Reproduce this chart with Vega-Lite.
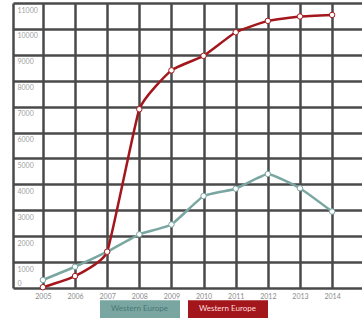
{
  "$schema": "https://vega.github.io/schema/vega-lite/v6.json",
  "width": 349,
  "height": 285,
  "padding": {"left": 13, "top": 3, "right": 0, "bottom": 0},
  "autosize": {"type": "pad"},
  "background": "white",
  "config": {
    "view": {"stroke": null},
    "axis": {"gridColor": "#4a4a4a", "gridWidth": 2.5, "gridOpacity": 1, "domainColor": "#4a4a4a", "domainWidth": 2.5, "labelFont": "Lato", "labelColor": "#8a8a8a", "labelFontSize": 7, "ticks": false}
  },
  "data": {"values": [
    {"year": 2005, "s": "A", "v": 310}, {"year": 2006, "s": "A", "v": 820}, {"year": 2007, "s": "A", "v": 1400},
    {"year": 2008, "s": "A", "v": 2070}, {"year": 2009, "s": "A", "v": 2450}, {"year": 2010, "s": "A", "v": 3550},
    {"year": 2011, "s": "A", "v": 3830}, {"year": 2012, "s": "A", "v": 4400}, {"year": 2013, "s": "A", "v": 3850},
    {"year": 2014, "s": "A", "v": 2950},
    {"year": 2005, "s": "B", "v": 30}, {"year": 2006, "s": "B", "v": 460}, {"year": 2007, "s": "B", "v": 1400},
    {"year": 2008, "s": "B", "v": 6900}, {"year": 2009, "s": "B", "v": 8400}, {"year": 2010, "s": "B", "v": 8960},
    {"year": 2011, "s": "B", "v": 9870}, {"year": 2012, "s": "B", "v": 10310}, {"year": 2013, "s": "B", "v": 10480},
    {"year": 2014, "s": "B", "v": 10540}
  ]},
  "encoding": {
    "x": {"field": "year", "type": "ordinal", "scale": {"type": "point", "padding": 0.93},
      "axis": {"title": null, "labelAngle": 0, "grid": true, "domain": false, "labelPadding": 4}},
    "y": {"field": "v", "type": "quantitative", "scale": {"domain": [0, 11000], "nice": false},
      "axis": {"title": null, "grid": true, "format": "d", "values": [0,1000,2000,3000,4000,5000,6000,7000,8000,9000,10000,11000],
        "labelAlign": "left", "labelBaseline": {"condition": {"test": "datum.value === 0", "value": "bottom"}, "value": "top"},
        "labelPadding": -4, "tickSize": 0, "labelOffset": {"condition": {"test": "datum.value === 0", "value": -2}, "value": 3}, "labelColor": "#a0a0a0"}},
    "color": {"field": "s", "type": "nominal", "scale": {"domain": ["A", "B"], "range": ["#7aa6a2", "#a3171c"]},
      "legend": {"title": null, "orient": "none", "legendX": 87, "legendY": 298, "padding": 0, "direction": "horizontal", "labelExpr": "'Western Europe'",
        "symbolType": "M-1,-1.1H9V1.1H-1Z", "symbolSize": 256, "symbolStrokeWidth": 0, "labelOffset": -5,
        "columnPadding": 8, "labelFont": "Lato", "labelFontSize": 8,
        "encode": {
          "symbols": {"update": {"fill": {"scale": "color", "field": "value"}, "opacity": {"value": 1}, "strokeWidth": {"value": 0}}},
          "labels": {"update": {"fill": {"signal": "datum.value === 'A' ? '#4a7773' : '#ffdede'"}}}
        }}}
  },
  "layer": [
    {"mark": {"type": "line", "strokeWidth": 2.5, "interpolate": "cardinal", "tension": 0.6}},
    {"mark": {"type": "point", "filled": true, "fill": "white", "size": 30, "strokeWidth": 1, "opacity": 1}, "encoding": {"stroke": {"field": "s", "type": "nominal", "scale": {"domain": ["A", "B"], "range": ["#7aa6a2", "#a3171c"]}, "legend": null}}}
  ]
}
